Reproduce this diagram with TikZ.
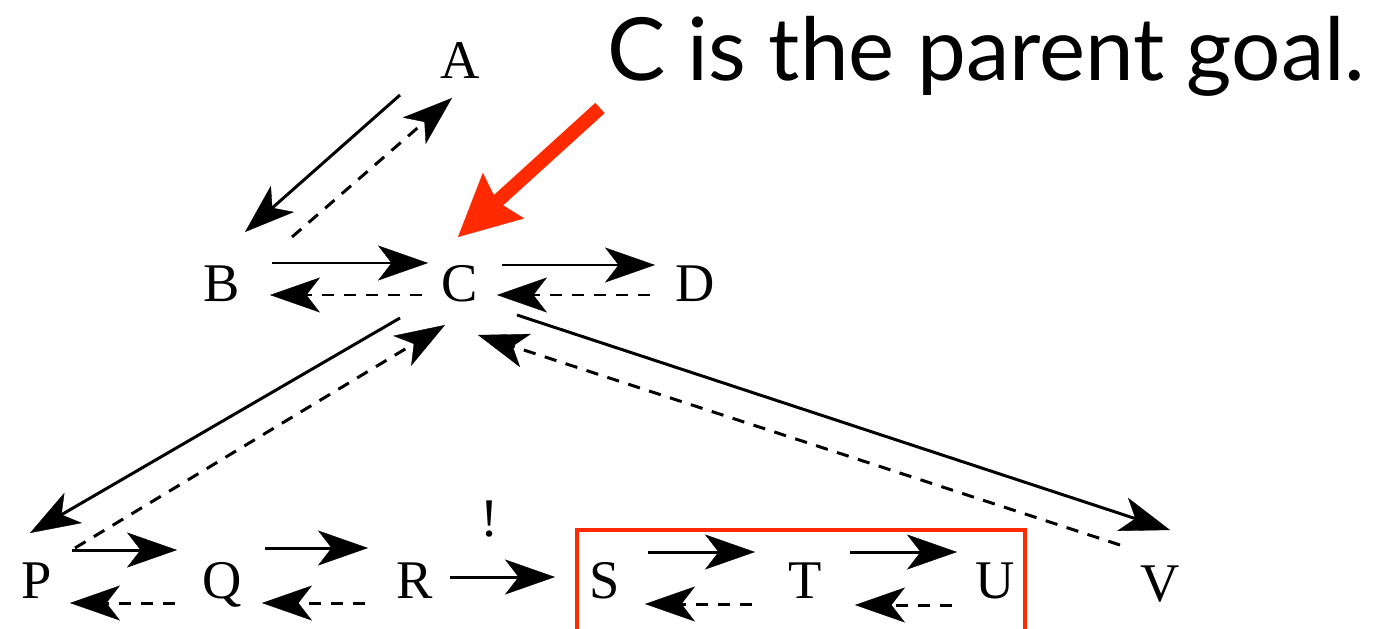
\documentclass[tikz,border=0pt]{standalone}
\usepackage{fontspec}
\usepackage{graphicx}
\setmainfont{Liberation Serif}
\newfontfamily\titlefont{Lato}
\usetikzlibrary{arrows.meta}
\definecolor{hl}{RGB}{255,42,0}
\begin{document}
\begin{tikzpicture}[x=0.02cm,y=-0.02cm,
  lab/.style={inner sep=0pt, text height=20.5pt, text depth=0pt, font=\fontsize{31}{31}\selectfont},
  fw/.style={line width=1.7pt, -{Stealth[length=1cm,width=0.7cm,inset=0.27cm,line width=0.2pt]}},
  bw/.style={fw, dash pattern=on 7pt off 5.5pt},
  hlarrow/.style={hl, line width=7.9pt, -{Stealth[length=35pt,width=35pt,inset=5pt,line width=0.1pt]}},
]
\useasboundingbox (0,0) rectangle (1387,629);
% nodes
\node[lab] (A) at (460,60) {A};
\node[lab] (B) at (222,283) {B};
\node[lab] (C) at (460,283) {C};
\node[lab] (D) at (695,283) {D};
\node[lab] (P) at (37,580) {P};
\node[lab] (Q) at (222,580) {Q};
\node[lab] (R) at (415,580) {R};
\node[lab] (S) at (605,580) {S};
\node[lab] (T) at (805,580) {T};
\node[lab] (U) at (995,580) {U};
\node[lab] (V) at (1160,583) {V};
\node[inner sep=0pt, anchor=base, font=\fontsize{31}{31}\selectfont] (bang) at (490,536) {!};
\node[anchor=base west, inner sep=0pt] (title) at (607,80) {\resizebox{15.16cm}{!}{\titlefont C is the parent goal.}};
% connectors
\draw[fw] ([shift={(-60,35)}]A.center) -- ([shift={(23,-51)}]B.center);
\draw[bw] ([shift={(70,-46)}]B.center) -- ([shift={(-8,38)}]A.center);
\draw[fw] ([shift={(50,-20)}]B.center) -- ([shift={(-32,-20)}]C.center);
\draw[bw] ([shift={(-38,12)}]C.center) -- ([shift={(48,12)}]B.center);
\draw[fw] ([shift={(42,-18)}]C.center) -- ([shift={(-40,-18)}]D.center);
\draw[bw] ([shift={(-45,12)}]D.center) -- ([shift={(37,12)}]C.center);
\draw[fw] ([shift={(-60,35)}]C.center) -- ([shift={(-7,-47)}]P.center);
\draw[bw] ([shift={(38,-32)}]P.center) -- ([shift={(-15,42)}]C.center);
\draw[fw] ([shift={(57,32)}]C.center) -- ([shift={(10,-53)}]V.center);
\draw[bw] ([shift={(-40,-38)}]V.center) -- ([shift={(18,52)}]C.center);
\draw[fw] ([shift={(35,-30)}]P.center) -- ([shift={(-45,-30)}]Q.center);
\draw[bw] ([shift={(-47,23)}]Q.center) -- ([shift={(33,23)}]P.center);
\draw[fw] ([shift={(43,-32)}]Q.center) -- ([shift={(-47,-32)}]R.center);
\draw[bw] ([shift={(-50,23)}]R.center) -- ([shift={(40,23)}]Q.center);
\draw[fw] ([shift={(35,-3)}]R.center) -- ([shift={(-50,-3)}]S.center);
\draw[fw] ([shift={(43,-28)}]S.center) -- ([shift={(-50,-28)}]T.center);
\draw[bw] ([shift={(-53,24)}]T.center) -- ([shift={(40,24)}]S.center);
\draw[fw] ([shift={(45,-28)}]T.center) -- ([shift={(-38,-28)}]U.center);
\draw[bw] ([shift={(-43,25)}]U.center) -- ([shift={(50,25)}]T.center);
% highlight
\coordinate (rt) at (600,108);
\draw[hlarrow] (rt) -- ([shift={(-2,-46)}]C.center);
\draw[hl, line width=2.8pt] (577,645) -- (577,530) -- (1025,530) -- (1025,645);
\end{tikzpicture}
\end{document}
